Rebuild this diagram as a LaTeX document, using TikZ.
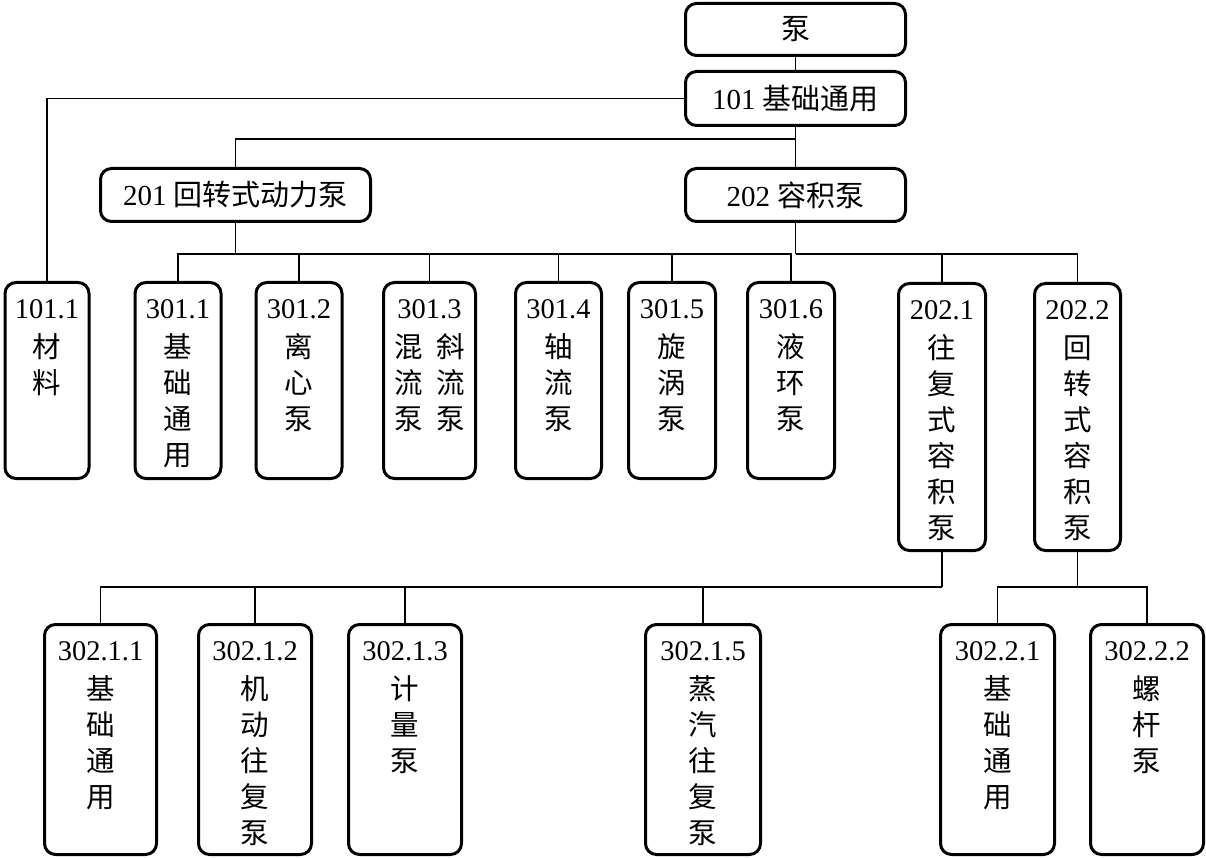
\documentclass[tikz,border=0pt]{standalone}
\usepackage{fontspec}
\setmainfont{Liberation Serif}
\newfontfamily\cjk{Noto Sans CJK SC}
\usetikzlibrary{positioning}
\begin{document}
\begin{tikzpicture}[x=1pt,y=-1pt,
  box/.style 2 args={draw, line width=3pt, rounded corners=11pt, minimum width=#1, minimum height=#2, inner sep=0pt, font=\fontsize{29}{36}\selectfont},
  lbl/.style={inner sep=0pt, align=center, font=\fontsize{28.5}{36}\selectfont},
  conn/.style={line width=1.3pt}]
\useasboundingbox (0,0) rectangle (1206,858);

% top level
\node[box={220pt}{52pt}] (pump) at (795.5,29.5) {\cjk 泵};
\node[box={220pt}{54pt}] (b101) at (795.5,98.5) {101 {\cjk 基础通用}};
\node[box={270pt}{53pt}] (b201) at (235.5,195) {201 {\cjk 回转式动力泵}};
\node[box={220pt}{53pt}] (b202) at (795.5,195) {202 {\cjk 容积泵}};

% middle row
\node[box={84pt}{196pt}] (m1011) at (47,380.5) {};
\node[box={86pt}{196pt}] (m3011) at (178,380.5) {};
\node[box={86pt}{196pt}] (m3012) at (299,380.5) {};
\node[box={92pt}{196pt}] (m3013) at (429.5,380.5) {};
\node[box={86pt}{196pt}] (m3014) at (558.5,380.5) {};
\node[box={87pt}{196pt}] (m3015) at (672,380.5) {};
\node[box={87pt}{196pt}] (m3016) at (791,380.5) {};
\node[box={87pt}{267pt}] (m2021) at (942,417) {};
\node[box={86pt}{267pt}] (m2022) at (1077.5,417) {};

\node[lbl, below=18pt of m1011.north] (t1011) {101.1\\[3pt]\cjk 材\\\cjk 料};
\node[lbl, below=18pt of m3011.north] (t3011) {301.1\\[3pt]\cjk 基\\\cjk 础\\\cjk 通\\\cjk 用};
\node[lbl, below=18pt of m3012.north] (t3012) {301.2\\[3pt]\cjk 离\\\cjk 心\\\cjk 泵};
\node[lbl, below=18pt of m3013.north] (t3013) {301.3\\[3pt]\cjk 混\hspace{13pt}斜\\\cjk 流\hspace{13pt}流\\\cjk 泵\hspace{13pt}泵};
\node[lbl, below=18pt of m3014.north] (t3014) {301.4\\[3pt]\cjk 轴\\\cjk 流\\\cjk 泵};
\node[lbl, below=18pt of m3015.north] (t3015) {301.5\\[3pt]\cjk 旋\\\cjk 涡\\\cjk 泵};
\node[lbl, below=18pt of m3016.north] (t3016) {301.6\\[3pt]\cjk 液\\\cjk 环\\\cjk 泵};
\node[lbl, below=18pt of m2021.north] (t2021) {202.1\\[3pt]\cjk 往\\\cjk 复\\\cjk 式\\\cjk 容\\\cjk 积\\\cjk 泵};
\node[lbl, below=18pt of m2022.north] (t2022) {202.2\\[3pt]\cjk 回\\\cjk 转\\\cjk 式\\\cjk 容\\\cjk 积\\\cjk 泵};

% bottom row
\node[box={112pt}{230pt}] (n1) at (100.5,739.5) {};
\node[box={113pt}{230pt}] (n2) at (255,739.5) {};
\node[box={113pt}{230pt}] (n3) at (405,739.5) {};
\node[box={115pt}{230pt}] (n5) at (703,739.5) {};
\node[box={114pt}{230pt}] (n21) at (997.5,739.5) {};
\node[box={113pt}{230pt}] (n22) at (1147,739.5) {};

\node[lbl, below=18pt of n1.north] (tn1) {302.1.1\\[3pt]\cjk 基\\\cjk 础\\\cjk 通\\\cjk 用};
\node[lbl, below=18pt of n2.north] (tn2) {302.1.2\\[3pt]\cjk 机\\\cjk 动\\\cjk 往\\\cjk 复\\\cjk 泵};
\node[lbl, below=18pt of n3.north] (tn3) {302.1.3\\[3pt]\cjk 计\\\cjk 量\\\cjk 泵};
\node[lbl, below=18pt of n5.north] (tn5) {302.1.5\\[3pt]\cjk 蒸\\\cjk 汽\\\cjk 往\\\cjk 复\\\cjk 泵};
\node[lbl, below=18pt of n21.north] (tn21) {302.2.1\\[3pt]\cjk 基\\\cjk 础\\\cjk 通\\\cjk 用};
\node[lbl, below=18pt of n22.north] (tn22) {302.2.2\\[3pt]\cjk 螺\\\cjk 杆\\\cjk 泵};

% junctions
\coordinate (j101) at (795.5,139);
\coordinate (j201) at (235.5,254);
\coordinate (j202) at (795.5,254);
\coordinate (j2021) at (942,587);
\coordinate (j2022) at (1077.5,587);

% connectors
\draw[conn] (pump.south) -- (b101.north);
\draw[conn] (b101.west) -| (m1011.north);
\draw[conn] (b101.south) -- (b202.north);
\draw[conn] (b201.north) |- (j101);
\draw[conn] (b201.south) -- (j201);
\foreach \c in {m3011,m3012,m3013,m3014,m3015,m3016}
  \draw[conn] (\c.north) |- (j201);
\draw[conn] (b202.south) -- (j202);
\foreach \c in {m2021,m2022}
  \draw[conn] (\c.north) |- (j202);
\draw[conn] (m2021.south) -- (j2021);
\foreach \c in {n1,n2,n3,n5}
  \draw[conn] (\c.north) |- (j2021);
\draw[conn] (m2022.south) -- (j2022);
\foreach \c in {n21,n22}
  \draw[conn] (\c.north) |- (j2022);
\end{tikzpicture}
\end{document}
